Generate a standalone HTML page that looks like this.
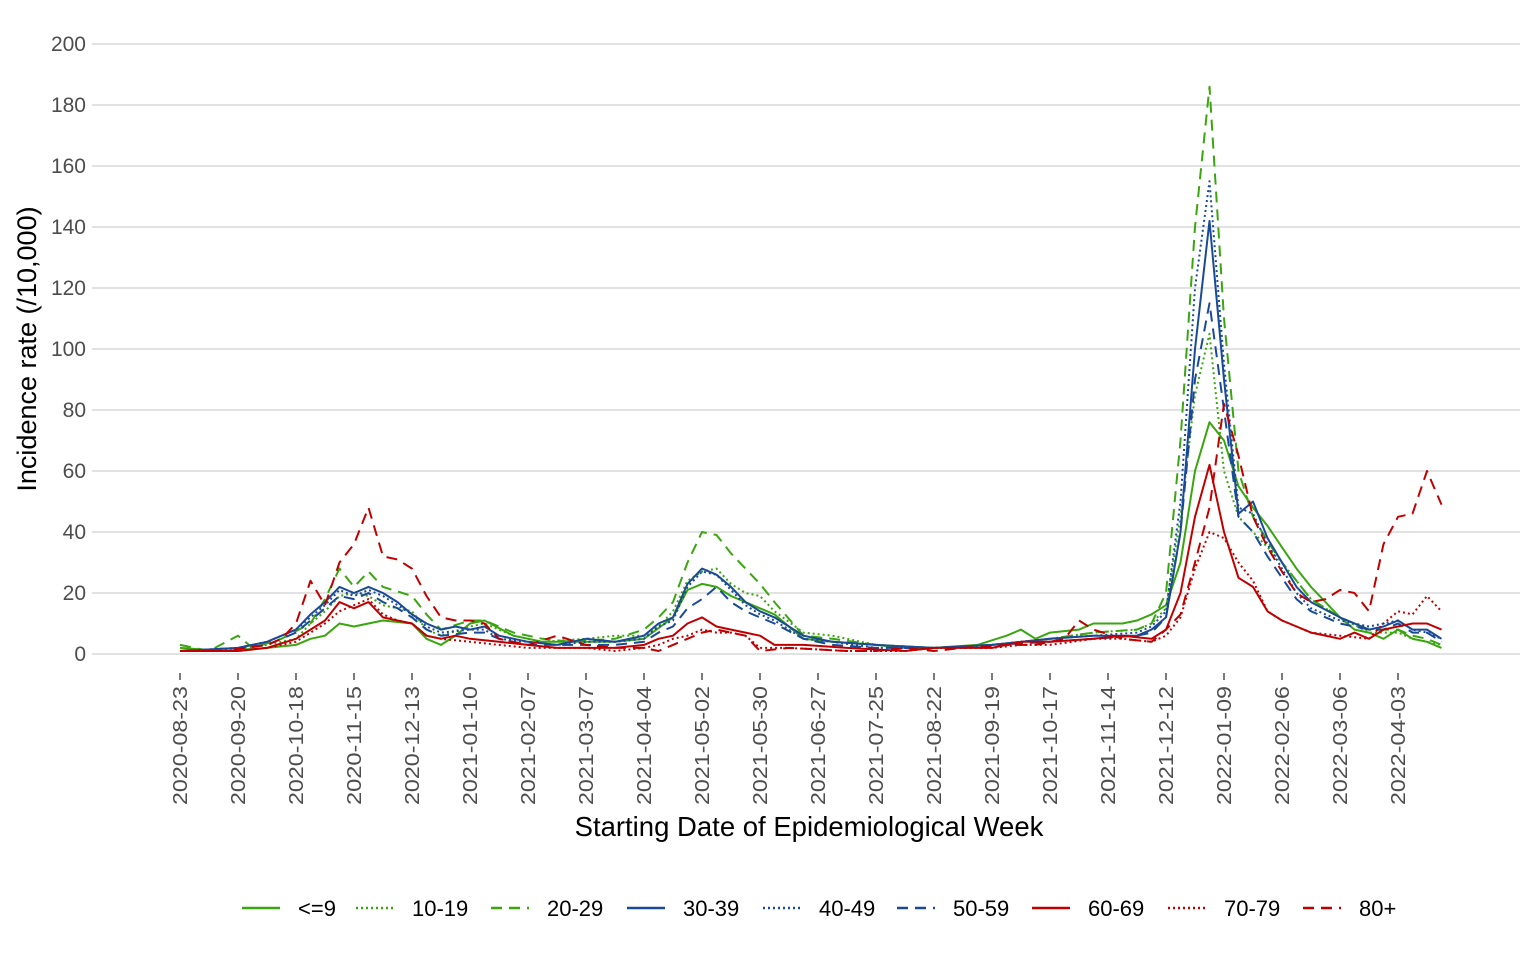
<!DOCTYPE html>
<html><head><meta charset="utf-8"><style>
body{margin:0;background:#fff;}
svg text{font-family:"Liberation Sans",Arial,sans-serif;}
</style></head><body>
<svg id="s" width="1536" height="960" xmlns="http://www.w3.org/2000/svg">
<rect width="1536" height="960" fill="#fff"/>
<g id="grid"></g>
<g id="ser" fill="none" stroke-width="2"></g>
<text x="809" y="836" font-size="27.5" text-anchor="middle" fill="#000">Starting Date of Epidemiological Week</text>
<text transform="translate(36,349) rotate(-90)" font-size="27" text-anchor="middle" fill="#000">Incidence rate (/10,000)</text>
<g id="leg" font-size="22" fill="#000"></g>
</svg>
<script>
const NS="http://www.w3.org/2000/svg";
function el(t,a,p,txt){const e=document.createElementNS(NS,t);for(const k in a)e.setAttribute(k,a[k]);if(txt!==undefined)e.textContent=txt;p.appendChild(e);return e;}
const g=document.getElementById('grid');
const Y=v=>654-v*3.05, X=w=>180+14.5*w;
for(let v=0;v<=200;v+=20){el('line',{x1:92,x2:1520,y1:Y(v),y2:Y(v),stroke:'#d0d0d0','stroke-width':1.3},g);
el('text',{x:86,y:Y(v)+7,'font-size':21,'text-anchor':'end',fill:'#4d4d4d'},g,v);}
const d=["2020-08-23","2020-09-20","2020-10-18","2020-11-15","2020-12-13","2021-01-10","2021-02-07","2021-03-07","2021-04-04","2021-05-02","2021-05-30","2021-06-27","2021-07-25","2021-08-22","2021-09-19","2021-10-17","2021-11-14","2021-12-12","2022-01-09","2022-02-06","2022-03-06","2022-04-03"];
d.forEach((t,i)=>{const x=X(i*4);el('line',{x1:x,x2:x,y1:673,y2:680,stroke:'#333','stroke-width':1.3},g);
el('text',{transform:`translate(${x+7},686) rotate(-90)`,'font-size':20,'text-anchor':'end',fill:'#4d4d4d',textLength:119,lengthAdjust:'spacingAndGlyphs'},g,t);});
const G='#3aa60f',B='#1a4a96',R='#c00000';
const DOT='2,3',DASH='11,7';
const g0=[[0,2],[3,1],[6,2],[8,3],[9,5],[10,6],[11,10],[12,9],[14,11],[16,10],[17,5],[18,3],[19,6],[20,10],[21,11],[23,6],[25,4],[27,4],[30,4],[32,5],[34,12],[35,21],[36,23],[37,22],[38,19],[40,15],[41,13],[43,5],[45,4],[48,3],[50,2],[52,2],[55,3],[57,6],[58,8],[59,5],[60,7],[62,8],[63,10],[65,10],[66,11],[67,13],[68,16],[69,30],[70,60],[71,76],[72,70],[73,55],[74,48],[75,42],[76,35],[77,28],[78,22],[79,17],[80,12],[81,8],[82,7],[83,5],[84,8],[85,5],[86,4],[87,2]];
const g1=[[0,1],[3,1],[6,3],[8,5],[9,10],[10,14],[11,19],[12,20],[13,19],[14,16],[16,14],[17,8],[18,6],[20,9],[21,10],[23,6],[25,4],[28,5],[30,6],[32,6],[33,9],[34,14],[35,24],[36,27],[37,28],[38,23],[39,20],[40,19],[41,14],[43,7],[45,6],[48,3],[52,2],[56,3],[60,5],[63,7],[66,8],[67,10],[68,15],[69,45],[70,85],[71,105],[72,60],[73,45],[74,40],[75,35],[76,30],[77,24],[78,18],[80,12],[82,7],[84,7],[85,5],[86,4],[87,3]];
const g2=[[0,3],[2,1],[4,6],[5,2],[7,5],[9,10],[10,18],[11,28],[12,22],[13,27],[14,22],[16,19],[17,13],[18,8],[20,11],[21,11],[23,7],[25,5],[27,4],[30,5],[32,8],[33,12],[34,17],[35,30],[36,40],[37,39],[38,33],[39,28],[40,23],[41,17],[43,6],[45,5],[48,3],[52,2],[56,3],[60,5],[63,7],[66,8],[67,10],[68,20],[69,70],[70,140],[71,186],[72,110],[73,60],[74,45],[75,37],[76,30],[77,24],[78,18],[80,12],[82,8],[84,8],[85,6],[86,5],[87,3]];
const b3=[[0,1],[4,2],[6,4],[8,8],[9,13],[10,17],[11,22],[12,20],[13,22],[14,20],[15,17],[16,13],[17,10],[18,8],[19,9],[20,8],[21,9],[22,6],[24,4],[26,3],[28,5],[30,4],[32,6],[33,10],[34,12],[35,23],[36,28],[37,26],[38,22],[39,17],[40,14],[41,12],[43,6],[45,4],[48,3],[52,2],[56,3],[60,5],[63,6],[66,6],[67,8],[68,12],[69,40],[70,100],[71,142],[72,90],[73,46],[74,50],[75,38],[76,30],[77,22],[78,17],[80,12],[82,8],[83,9],[84,11],[85,8],[86,8],[87,5]];
const b4=[[0,1],[4,2],[6,4],[8,8],[9,12],[10,16],[11,21],[12,19],[13,21],[14,19],[15,16],[16,13],[17,9],[18,7],[20,8],[21,8],[22,5],[24,4],[26,3],[28,4],[30,4],[32,5],[33,9],[34,11],[35,22],[36,27],[37,26],[38,21],[39,16],[40,13],[41,11],[43,5],[45,4],[48,2],[52,2],[56,3],[60,5],[63,6],[66,7],[67,9],[68,14],[69,50],[70,120],[71,155],[72,95],[73,48],[74,46],[75,36],[76,28],[77,20],[78,15],[80,11],[82,9],[83,10],[84,11],[85,8],[86,7],[87,5]];
const b5=[[0,1],[4,2],[6,3],[8,7],[9,11],[10,15],[11,19],[12,18],[13,20],[14,17],[15,15],[16,12],[17,8],[18,6],[20,7],[21,7],[22,5],[24,3],[26,3],[28,3],[30,3],[32,4],[33,7],[34,9],[35,15],[36,18],[37,22],[38,17],[39,14],[40,12],[41,10],[43,5],[45,3],[48,2],[52,2],[56,3],[60,4],[63,5],[66,6],[67,7],[68,12],[69,40],[70,90],[71,115],[72,80],[73,45],[74,40],[75,32],[76,25],[77,18],[78,14],[80,10],[82,8],[83,8],[84,10],[85,7],[86,7],[87,4]];
const r6=[[0,1],[4,1],[6,2],[8,5],[9,8],[10,11],[11,17],[12,15],[13,17],[14,12],[15,11],[16,10],[17,6],[18,5],[19,6],[20,5],[22,4],[24,3],[26,2],[28,2],[30,2],[32,3],[33,5],[34,6],[35,10],[36,12],[37,9],[38,8],[39,7],[40,6],[41,3],[43,3],[46,2],[50,1],[52,2],[56,2],[58,4],[60,4],[63,5],[65,6],[67,5],[68,8],[69,20],[70,45],[71,62],[72,40],[73,25],[74,22],[75,14],[76,11],[77,9],[78,7],[80,5],[81,7],[82,5],[83,8],[84,9],[85,10],[86,10],[87,8]];
const r7=[[0,1],[4,1],[6,2],[8,4],[9,7],[10,10],[11,14],[12,16],[13,18],[14,13],[15,11],[16,10],[17,6],[18,5],[20,4],[22,3],[24,2],[26,2],[28,2],[30,1],[32,2],[33,3],[34,5],[35,6],[36,8],[37,7],[38,7],[39,6],[40,2],[42,2],[46,1],[50,1],[52,2],[56,2],[58,3],[60,3],[63,5],[65,5],[67,4],[68,6],[69,12],[70,28],[71,40],[72,38],[73,30],[74,24],[75,14],[76,11],[77,9],[78,7],[80,6],[82,5],[83,10],[84,14],[85,13],[86,19],[87,14]];
const r8=[[0,1],[3,1],[6,3],[7,5],[8,10],[9,24],[10,16],[11,30],[12,36],[13,48],[14,32],[15,31],[16,28],[17,19],[18,12],[19,11],[20,11],[21,10],[22,5],[24,3],[26,6],[28,3],[30,2],[32,2],[33,1],[34,3],[35,5],[36,7],[37,8],[38,7],[39,6],[40,1],[42,2],[46,1],[48,1],[50,2],[52,1],[54,2],[57,3],[59,3],[61,5],[62,11],[63,8],[65,5],[67,4],[68,8],[69,13],[70,30],[71,48],[72,82],[73,65],[74,45],[75,35],[76,27],[77,20],[78,17],[79,18],[80,21],[81,20],[82,14],[83,36],[84,45],[85,46],[86,60],[87,49]];
const S=[[g0,G,''],[g1,G,DOT],[g2,G,DASH],[b3,B,''],[b4,B,DOT],[b5,B,DASH],[r6,R,''],[r7,R,DOT],[r8,R,DASH]];
const sg=document.getElementById('ser');
S.forEach(([p,c,da])=>{const a={points:p.map(([w,v])=>X(w).toFixed(1)+','+Y(v).toFixed(1)).join(' '),stroke:c,'stroke-linejoin':'round'};if(da)a['stroke-dasharray']=da;el('polyline',a,sg);});
const lg=document.getElementById('leg');
const labs=["<=9","10-19","20-29","30-39","40-49","50-59","60-69","70-79","80+"];
const lx=[242,356,491,627,763,897,1032,1168,1303];
labs.forEach((t,i)=>{const a={x1:lx[i],x2:lx[i]+38,y1:908,y2:908,stroke:S[i][1],'stroke-width':2.5};if(S[i][2])a['stroke-dasharray']=S[i][2];el('line',a,lg);
el('text',{x:lx[i]+56,y:916},lg,t);});
</script>
</body></html>
